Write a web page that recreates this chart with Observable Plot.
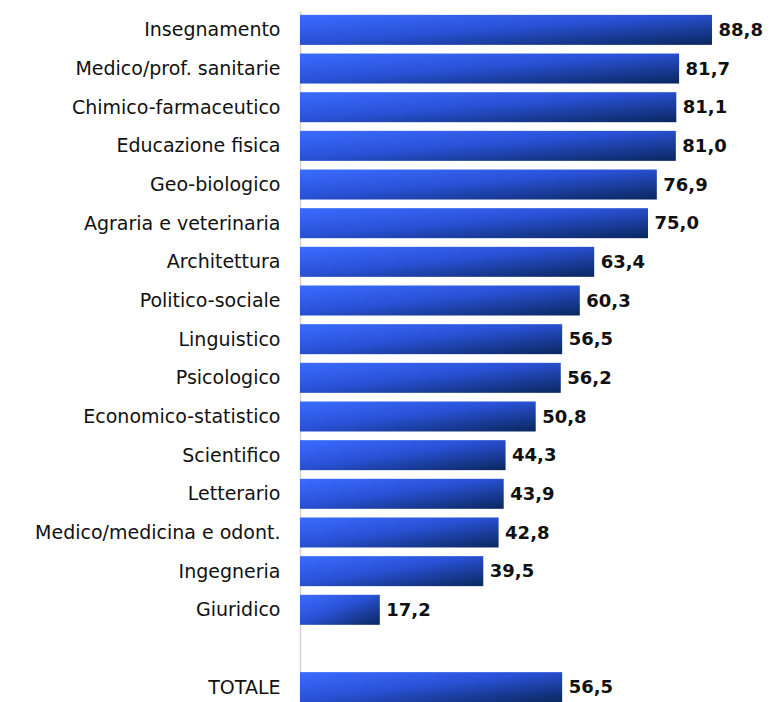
<!DOCTYPE html>
<html><head><meta charset="utf-8">
<script src="https://cdn.jsdelivr.net/npm/d3@7"></script>
<script src="https://cdn.jsdelivr.net/npm/@observablehq/plot@0.6"></script>
<style>body{margin:0;background:#fff}#c{width:770px;height:702px;overflow:hidden}</style>
</head><body><div id="c"></div>
<script>
const categories = ["Insegnamento","Medico/prof. sanitarie","Chimico-farmaceutico","Educazione fisica","Geo-biologico","Agraria e veterinaria","Architettura","Politico-sociale","Linguistico","Psicologico","Economico-statistico","Scientifico","Letterario","Medico/medicina e odont.","Ingegneria","Giuridico"," ","TOTALE"];
const values = [88.8,81.7,81.1,81.0,76.9,75.0,63.4,60.3,56.5,56.2,50.8,44.3,43.9,42.8,39.5,17.2,null,56.5];
const data = categories.map((c,i)=>({cat:c, v:values[i]})).filter(d=>d.v!=null);
const fmt = v => v.toFixed(1).replace(".", ",");

const chart = Plot.plot({
  width: 770, height: 702,
  marginLeft: 300, marginRight: 6, marginTop: 11, marginBottom: -4,
  style: {fontFamily: "DejaVu Sans, sans-serif", fontSize: "19px", color: "#000", overflow: "hidden"},
  x: {domain: [0, 100], axis: null},
  y: {domain: categories, paddingInner: 0.224, paddingOuter: 0.1, round: false, label: null, tickSize: 0, tickPadding: 20},
  marks: [
    Plot.ruleX([0], {stroke: "#d4d4d4", strokeWidth: 1.5}),
    Plot.barX(data, {y: "cat", x: "v", fill: "url(#bargrad)"}),
    Plot.text(data, {y: "cat", x: "v", text: d => fmt(d.v), textAnchor: "start", dx: 6, fontWeight: "bold", fontSize: 18, fill: "#111"})
  ]
});
const svg = d3.select(chart);
svg.selectAll("g[aria-label='y-axis tick label']").attr("font-size", 19).attr("fill", "#111");
const defs = svg.insert("defs", ":first-child");
const g = defs.append("linearGradient").attr("id","bargrad").attr("x1",0).attr("y1",0).attr("x2",1).attr("y2",1);
g.append("stop").attr("offset","0%").attr("stop-color","#3a6cff");
g.append("stop").attr("offset","45%").attr("stop-color","#2a52d8");
g.append("stop").attr("offset","100%").attr("stop-color","#0a275e");
document.getElementById("c").appendChild(chart);
</script></body></html>
